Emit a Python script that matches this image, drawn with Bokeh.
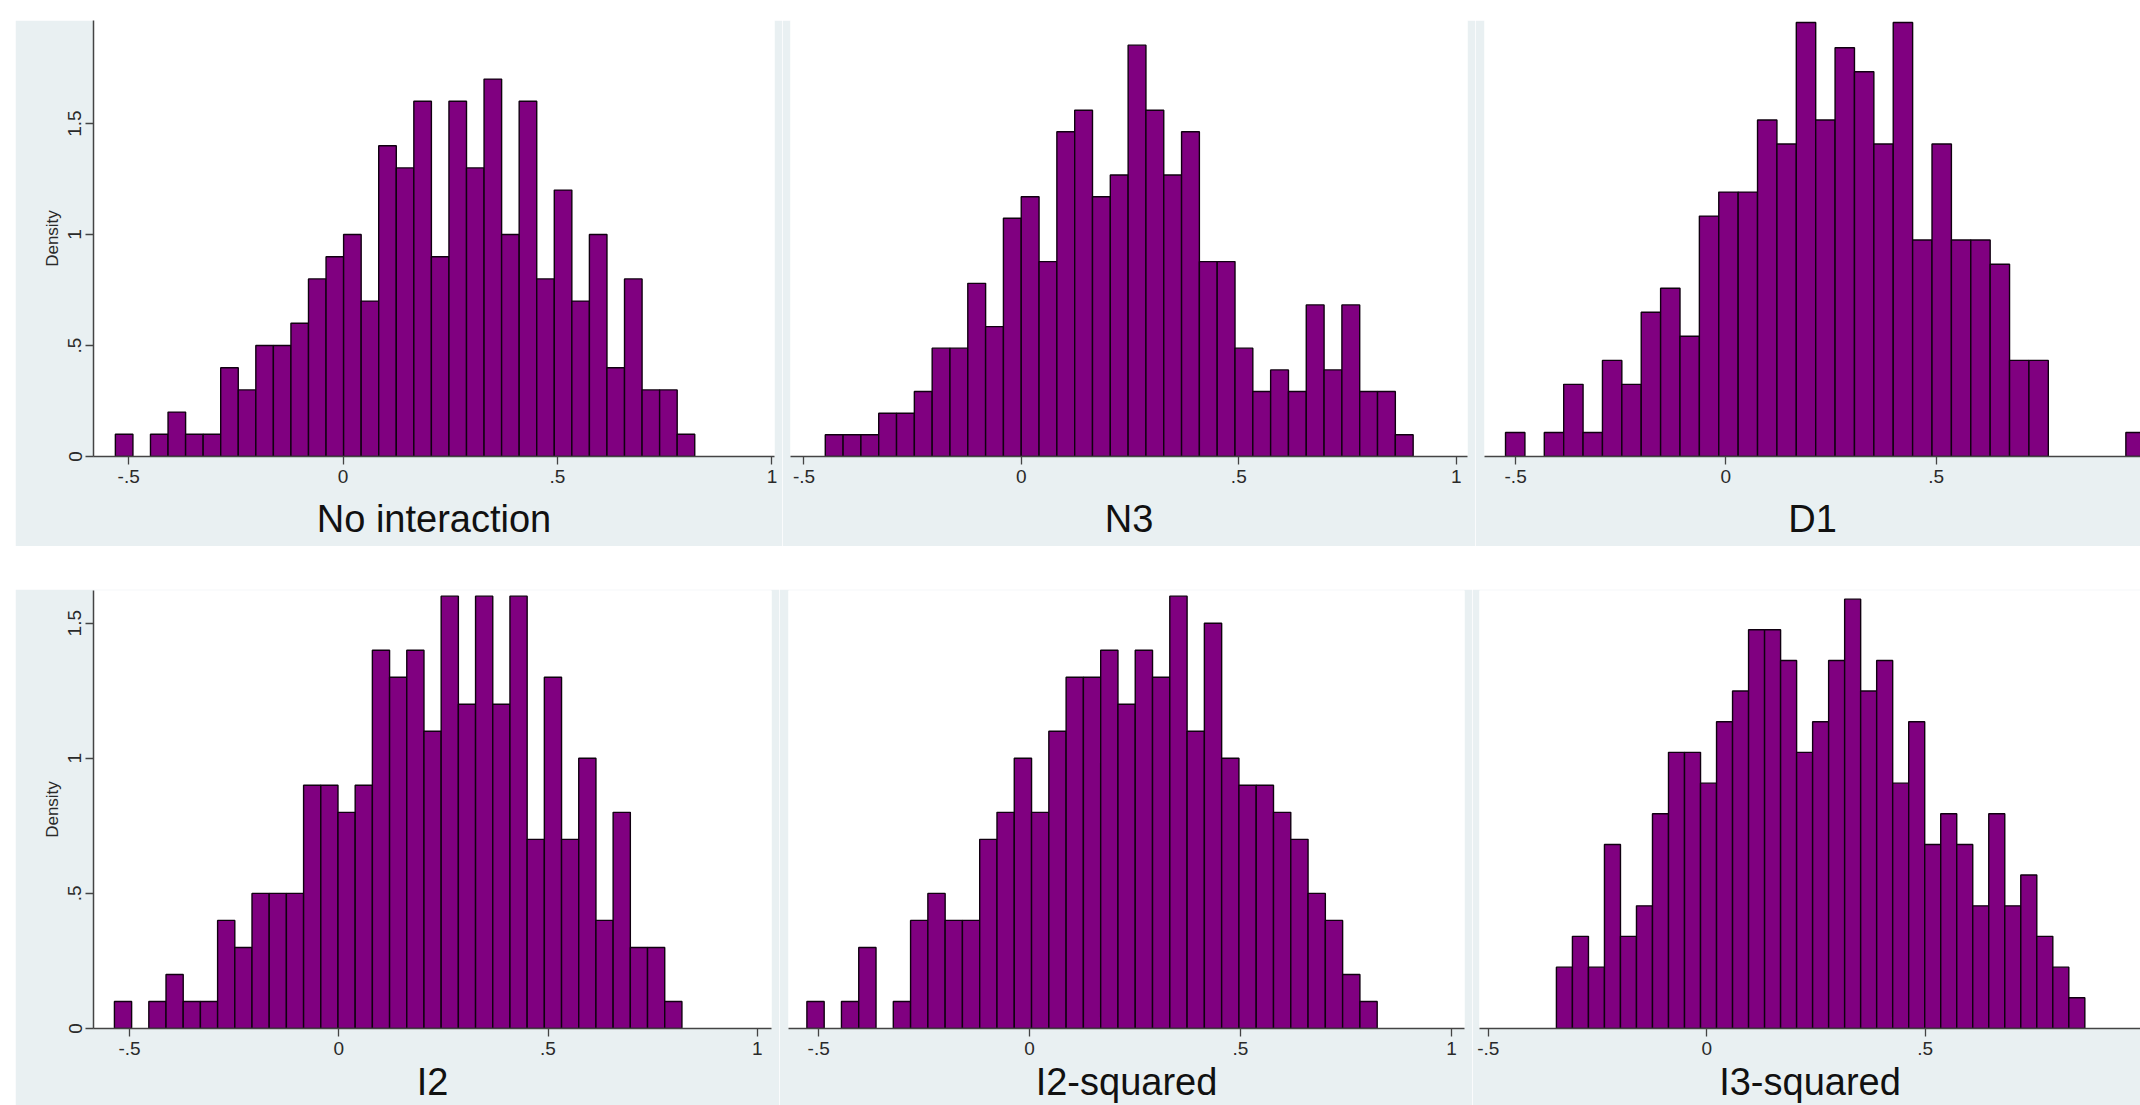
from bokeh.plotting import figure
from bokeh.layouts import column, row
from bokeh.models import Range1d, FixedTicker, Spacer
from bokeh.embed import file_html
from bokeh.resources import INLINE

# ---------------- data ----------------
titles = ["No interaction", "N3", "D1", "I2", "I2-squared", "I3-squared"]

# histogram bins: first edge, bin width, density per bin
no_interaction_start = -0.531
no_interaction_width = 0.04094
no_interaction_density = [0.1, 0, 0.1, 0.2, 0.1, 0.1, 0.4, 0.3, 0.5, 0.5, 0.6, 0.8, 0.9,
                          1.0, 0.7, 1.4, 1.3, 1.6, 0.9, 1.6, 1.3, 1.7, 1.0, 1.6, 0.8, 1.2,
                          0.7, 1.0, 0.4, 0.8, 0.3, 0.3, 0.1]

n3_start = -0.451
n3_width = 0.04097
n3_density = [0.098, 0.098, 0.098, 0.195, 0.195, 0.293, 0.488, 0.488, 0.78, 0.585, 1.073,
              1.17, 0.878, 1.463, 1.56, 1.17, 1.268, 1.853, 1.56, 1.268, 1.463, 0.878, 0.878,
              0.488, 0.293, 0.39, 0.293, 0.683, 0.39, 0.683, 0.293, 0.293, 0.098]

d1_start = -0.524
d1_width = 0.0461
d1_density = [0.108, 0, 0.108, 0.325, 0.108, 0.433, 0.325, 0.65, 0.758, 0.542, 1.083, 1.191,
              1.191, 1.516, 1.408, 1.955, 1.516, 1.841, 1.733, 1.408, 1.955, 0.975, 1.408,
              0.975, 0.975, 0.866, 0.433, 0.433, 0, 0, 0, 0, 0.108]

i2_start = -0.536
i2_width = 0.04109
i2_density = [0.1, 0, 0.1, 0.2, 0.1, 0.1, 0.4, 0.3, 0.5, 0.5, 0.5, 0.9, 0.9, 0.8, 0.9, 1.4,
              1.3, 1.4, 1.1, 1.6, 1.2, 1.6, 1.2, 1.6, 0.7, 1.3, 0.7, 1.0, 0.4, 0.8, 0.3, 0.3, 0.1]

i2sq_start = -0.528
i2sq_width = 0.04097
i2sq_density = [0.1, 0, 0.1, 0.3, 0, 0.1, 0.4, 0.5, 0.4, 0.4, 0.7, 0.8, 1.0, 0.8, 1.1, 1.3,
                1.3, 1.4, 1.2, 1.4, 1.3, 1.6, 1.1, 1.5, 1.0, 0.9, 0.9, 0.8, 0.7, 0.5, 0.4, 0.2, 0.1]

i3sq_start = -0.344
i3sq_width = 0.03664
i3sq_density = [0.227, 0.341, 0.227, 0.681, 0.341, 0.454, 0.795, 1.022, 1.022, 0.908, 1.135,
                1.249, 1.476, 1.476, 1.362, 1.022, 1.135, 1.362, 1.589, 1.249, 1.362, 0.908,
                1.135, 0.681, 0.795, 0.681, 0.454, 0.795, 0.454, 0.568, 0.341, 0.227, 0.114]

x_tick_values = [-0.5, 0, 0.5, 1]
x_tick_labels = ["-.5", "0", ".5", "1"]
y_tick_values = [0, 0.5, 1, 1.5]
y_tick_labels = ["0", ".5", "1", "1.5"]
y_title = "Density"

# axis extents of each panel
x_ranges = [(-0.582, 1.006), (-0.531, 1.026), (-0.574, 0.986),
            (-0.586, 1.034), (-0.5716, 1.031), (-0.520, 0.9925)]
y_ranges = [(0, 1.964), (0, 1.621)]

# ---------------- style ----------------
GRAY = "#e9f0f2"
BAR = "#800080"
AXIS = "#444444"
FONT = "Liberation Sans"


def make_panel(idx, start, width, density, fig_w, fig_h, b_left, b_right, b_top, b_bottom,
               show_y, title_standoff):
    xr = x_ranges[idx]
    yr = y_ranges[0 if idx < 3 else 1]
    p = figure(width=fig_w, height=fig_h,
               x_range=Range1d(*xr), y_range=Range1d(*yr),
               output_backend="svg", toolbar_location=None,
               min_border_left=b_left, min_border_right=b_right,
               min_border_top=b_top, min_border_bottom=b_bottom)
    p.title.visible = False
    p.background_fill_color = "white"
    p.border_fill_color = GRAY
    p.outline_line_color = None
    p.grid.visible = False

    lefts, rights, tops = [], [], []
    for i, d in enumerate(density):
        if d > 0:
            lefts.append(start + i * width)
            rights.append(start + (i + 1) * width)
            tops.append(d)
    p.quad(left=lefts, right=rights, top=tops, bottom=0,
           fill_color=BAR, line_color="#100010", line_width=1.4)

    xa = p.xaxis[0]
    xa.ticker = FixedTicker(ticks=x_tick_values)
    xa.major_label_overrides = {v: s for v, s in zip(x_tick_values, x_tick_labels)}
    xa.minor_tick_line_color = None
    xa.major_tick_in = 0
    xa.major_tick_out = 8
    xa.axis_line_color = AXIS
    xa.axis_line_width = 1.5
    xa.major_tick_line_color = AXIS
    xa.major_tick_line_width = 1.3
    xa.major_label_text_font = FONT
    xa.major_label_text_font_size = "19px"
    xa.major_label_text_color = "#2a2a2a"
    xa.major_label_standoff = 5
    xa.axis_label = titles[idx]
    xa.axis_label_text_font = FONT
    xa.axis_label_text_font_size = "38px"
    xa.axis_label_text_font_style = "normal"
    xa.axis_label_text_color = "#111111"
    xa.axis_label_standoff = title_standoff

    ya = p.yaxis[0]
    if show_y:
        ya.ticker = FixedTicker(ticks=y_tick_values)
        ya.major_label_overrides = {v: s for v, s in zip(y_tick_values, y_tick_labels)}
        ya.minor_tick_line_color = None
        ya.major_tick_in = 0
        ya.major_tick_out = 8
        ya.axis_line_color = AXIS
        ya.axis_line_width = 1.5
        ya.major_tick_line_color = AXIS
        ya.major_tick_line_width = 1.3
        ya.major_label_text_font = FONT
        ya.major_label_text_font_size = "19px"
        ya.major_label_text_color = "#2a2a2a"
        ya.major_label_orientation = "vertical"
        ya.major_label_standoff = 4
        ya.axis_label = y_title
        ya.axis_label_text_font = FONT
        ya.axis_label_text_font_size = "17px"
        ya.axis_label_text_font_style = "normal"
        ya.axis_label_text_color = "#2a2a2a"
        ya.axis_label_standoff = 4
    else:
        ya.visible = False
    return p


# row 1: gray panels span y 20..546, plot frames y 20..456
f1 = make_panel(0, no_interaction_start, no_interaction_width, no_interaction_density,
                767, 526, 78, 8, 0, 90, True, 12)
f2 = make_panel(1, n3_start, n3_width, n3_density,
                693, 526, 8, 8, 0, 90, False, 12)
f3 = make_panel(2, d1_start, d1_width, d1_density,
                665, 526, 9, 0, 0, 90, False, 12)

# row 2: gray panels span y 589..1105, plot frames y 590..1030
f4 = make_panel(3, i2_start, i2_width, i2_density,
                764, 516, 78, 8, 1, 75, True, 3)
f5 = make_panel(4, i2sq_start, i2sq_width, i2sq_density,
                693, 516, 9, 8, 1, 75, False, 3)
f6 = make_panel(5, i3sq_start, i3sq_width, i3sq_density,
                668, 516, 7, 0, 1, 75, False, 3)

layout = column(
    Spacer(width=10, height=20),
    row(Spacer(width=15, height=10), f1, f2, f3),
    Spacer(width=10, height=43),
    row(Spacer(width=15, height=10), f4, f5, f6),
)

open("out.html", "w").write(file_html(layout, INLINE))
